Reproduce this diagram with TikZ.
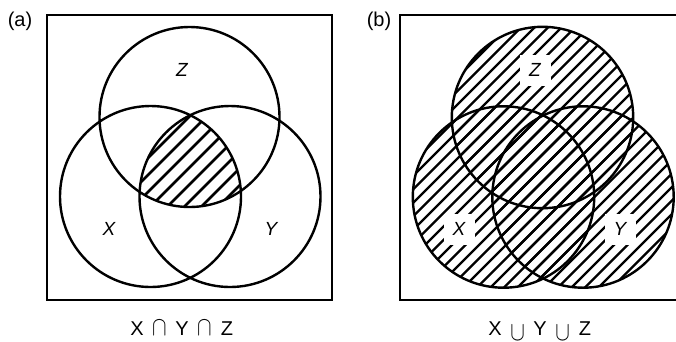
\documentclass[tikz,border=0pt]{standalone}
\usepackage{fontspec}
\setmainfont{Liberation Sans}
\newcommand{\capsym}{\scalebox{1.05}[1.3]{$\cap$}}
\newcommand{\cupsym}{\raisebox{-5pt}{\scalebox{1.05}[1.3]{$\cup$}}}
\newcommand{\slot}[1]{\makebox[22.5pt]{#1}}
\begin{document}
\begin{tikzpicture}[x=1pt,y=-1pt,
  frame/.style={line width=2.6pt},
  ring/.style={line width=2.4pt},
  hatchA/.style={line width=2.6pt},
  hatchB/.style={line width=2.2pt},
  setlabel/.style={font=\fontsize{19}{19}\selectfont\itshape},
  panel/.style={font=\fontsize{20}{20}\selectfont},
  caption/.style={font=\fontsize{20}{20}\selectfont}]
\useasboundingbox (0,0) rectangle (676,341);
% ---------- panel (a) ----------
\node[panel] (la) at (20,21) {(a)};
\node[draw,frame,minimum width=285pt,minimum height=285pt,inner sep=0pt] (boxa) at (189.5,157.5) {};
\begin{scope}
  \clip (150.5,196.5) circle (90.5);
  \clip (230,196.5) circle (90.5);
  \clip (189.5,117) circle (90);
  \foreach \c in {0,17,...,700} \draw[hatchA] (\c,0) -- ++(-400,400);
\end{scope}
\draw[ring] (189.5,117) circle (90);
\draw[ring] (150.5,196.5) circle (90.5);
\draw[ring] (230,196.5) circle (90.5);
\node[setlabel] (za) at (182,70) {Z};
\node[setlabel] (xa) at (109,229) {X};
\node[setlabel] (ya) at (271,229) {Y};
\node[caption] (ca) at (182,328) {\slot{X}\slot{\capsym}\slot{Y}\slot{\capsym}\slot{Z}};
% ---------- panel (b) ----------
\node[panel] (lb) at (379,21) {(b)};
\draw[frame] (690,15) -- (400,15) -- (400,300) -- (690,300);
\foreach \cx/\cy in {542.5/117.5, 503.5/197, 583/197}{
  \begin{scope}
    \clip (\cx,\cy) circle (90.7);
    \foreach \c in {400,413.5,...,1100} \draw[hatchB] (\c,0) -- ++(-400,400);
  \end{scope}
}
\draw[ring] (542.5,117.5) circle (90.7);
\draw[ring] (503.5,197) circle (90.7);
\draw[ring] (583,197) circle (90.7);
\node[setlabel,fill=white,minimum size=31pt,inner sep=0pt] (zb) at (535,70) {Z};
\node[setlabel,fill=white,minimum size=31pt,inner sep=0pt] (xb) at (459,229) {X};
\node[setlabel,fill=white,minimum size=31pt,inner sep=0pt] (yb) at (620,229) {Y};
\node[caption,anchor=base] (cb) at (540,335) {\slot{X}\slot{\cupsym}\slot{Y}\slot{\cupsym}\slot{Z}};
\end{tikzpicture}
\end{document}
